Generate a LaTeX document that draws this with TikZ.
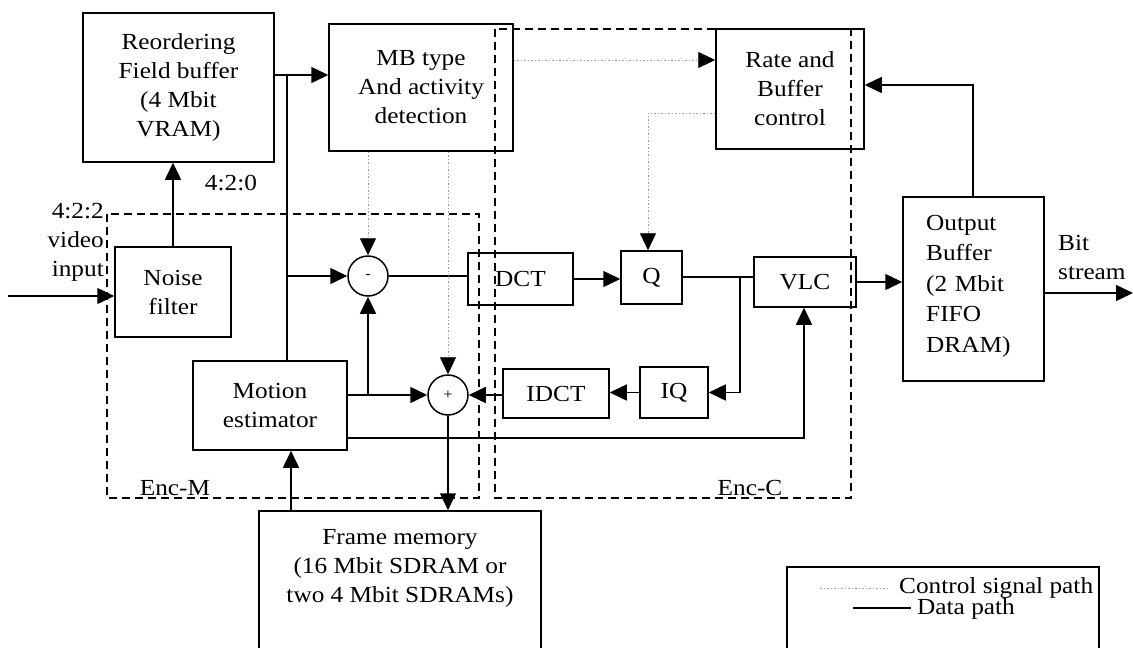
\documentclass[tikz,border=0pt]{standalone}
\usepackage{fontspec}
\setmainfont{Liberation Serif}[FakeStretch=1.1]
\usetikzlibrary{arrows.meta,positioning,calc}
\begin{document}
\begin{tikzpicture}[x=1pt,y=-1pt,
  every node/.style={font=\fontsize{23}{29}\selectfont},
  box/.style={draw, line width=1.5pt, align=center, inner sep=0pt},
  sumnode/.style={draw, circle, line width=1.5pt, minimum size=40pt, inner sep=0pt,
                  font=\fontsize{15}{15}\selectfont},
  data/.style={line width=1.5pt},
  arr/.style={-{Triangle[length=17pt,width=16pt,color=black]}},
  ctl/.style={line width=0.9pt, gray!75, dash pattern=on 1.5pt off 2pt},
  encbox/.style={line width=1.8pt, dash pattern=on 8pt off 5pt},
  lbl/.style={inner sep=0pt}]
\useasboundingbox (0,0) rectangle (1133,648);
\begin{scope}
\clip (0,0) rectangle (1133,648);

% processing blocks
\node[box, minimum width=191pt, minimum height=149pt] (reorder) at (178.5,87.5)
  {Reordering\\Field buffer\\(4 Mbit\\VRAM)};
\node[box, minimum width=184pt, minimum height=127pt] (mbtype) at (421,87.5)
  {MB type\\And activity\\detection};
\node[box, minimum width=148pt, minimum height=120pt] (rate) at (790,89)
  {Rate and\\Buffer\\control};
\node[box, minimum width=141pt, minimum height=184pt] (outbuf) at (973.5,289) {};
\node[lbl, align=left, text width=95pt, anchor=north west,
      font=\fontsize{23}{30.5}\selectfont] (outtext) at (926,215)
  {Output\\Buffer\\(2 Mbit\\FIFO\\DRAM)};
\node[box, minimum width=116pt, minimum height=90pt] (noise) at (173,292)
  {Noise\\filter};
\node[box, minimum width=154pt, minimum height=89pt] (motion) at (270,405.5)
  {Motion\\estimator};
\node[box, minimum width=105pt, minimum height=52pt] (dct) at (520.5,279) {DCT};
\node[box, minimum width=61pt, minimum height=53pt] (q) at (651.5,277.5) {Q};
\node[box, minimum width=102pt, minimum height=50pt] (vlc) at (805,282) {VLC};
\node[box, minimum width=106pt, minimum height=49pt] (idct) at (556,393.5) {IDCT};
\node[box, minimum width=68pt, minimum height=51pt] (iq) at (674,392.5) {IQ};
\node[sumnode] (minus) at (368,276) {-};
\node[sumnode] (plus) at (448,395) {+};
\node[box, minimum width=282pt, minimum height=170pt] (frame) at (400,596) {};
\node[lbl, align=center] (frametext) at (400,568)
  {Frame memory\\(16 Mbit SDRAM or\\two 4 Mbit SDRAMs)};

% encoder partitions
\draw[encbox] (107,214) rectangle (479,498);
\draw[encbox] (495,29) rectangle (851,498);
\node[lbl] (encm) at (175,488) {Enc-M};
\node[lbl] (encc) at (750,488) {Enc-C};

% labels
\node[lbl, align=right, anchor=east] (inlbl) at (104,242)
  {\fontsize{23}{28}\selectfont 4:2:2\\video\\input};
\node[lbl] (lbl420) at (231,183) {4:2:0};
\node[lbl, align=left, anchor=west] (bslbl) at (1058,257)
  {\fontsize{23}{30}\selectfont Bit\\stream};

% junction points
\coordinate (in) at (8,296);
\coordinate (j1) at (287,75);
\coordinate (j2) at (740,277);
\coordinate (j3) at (804,438);
\coordinate (j4) at (973,85);
\coordinate (bs) at (1133,293);
\coordinate (c1) at (600,60);
\coordinate (c2) at (648,113);
\coordinate (fmin) at (291,511);

% data path
\draw[data,arr] (in) -- (in -| noise.west);
\draw[data,arr] (noise.north) -- (noise.north |- reorder.south);
\draw[data,arr] (reorder.east |- j1) -- (mbtype.west |- j1);
\draw[data] (j1) -- (j1 |- motion.north);
\draw[data,arr] (j1 |- minus) -- (minus.west);
\draw[data] (minus.east) -- (minus.east -| dct.west);
\draw[data,arr] (dct.east) -- (dct.east -| q.west);
\draw[data] (q.east |- j2) -- (vlc.west |- j2);
\draw[data,arr] (j2) -- (j2 |- iq.east) -- (iq.east);
\draw[data,arr] (iq.west) -- (iq.west -| idct.east);
\draw[data,arr] (idct.west |- plus) -- (plus.east);
\draw[data,arr] (motion.east |- plus) -- (plus.west);
\draw[data,arr] (minus.south |- plus) -- (minus.south);
\draw[data,arr] (motion.east |- j3) -- (j3) -- (j3 |- vlc.south);
\draw[data,arr] (plus.south) -- (plus.south |- frame.north);
\draw[data,arr] (fmin) -- (fmin |- motion.south);
\draw[data,arr] (vlc.east) -- (vlc.east -| outbuf.west);
\draw[data,arr] (outbuf.east |- bs) -- (bs);
\draw[data,arr] (outbuf.north -| j4) -- (j4) -- (j4 -| rate.east);

% control signal path
\draw[ctl,arr] (mbtype.east |- c1) -- (rate.west |- c1);
\draw[ctl,arr] (rate.west |- c2) -- (c2) -- (c2 |- q.north);
\draw[ctl,arr] (mbtype.south -| minus) -- (minus.north);
\draw[ctl,arr] (mbtype.south -| plus) -- (plus.north);

% legend
\node[box, minimum width=312pt, minimum height=110pt] (legend) at (943,622) {};
\coordinate (lc1) at (820,588);
\coordinate (lc2) at (890,588);
\coordinate (ld1) at (853,608);
\coordinate (ld2) at (911,608);
\draw[ctl] (lc1) -- (lc2);
\draw[data] (ld1) -- (ld2);
\node[lbl, anchor=west] (legctl) at (899,588) {Control signal path};
\node[lbl, anchor=west] (legdata) at (917,609) {Data path};
\end{scope}
\end{tikzpicture}
\end{document}
